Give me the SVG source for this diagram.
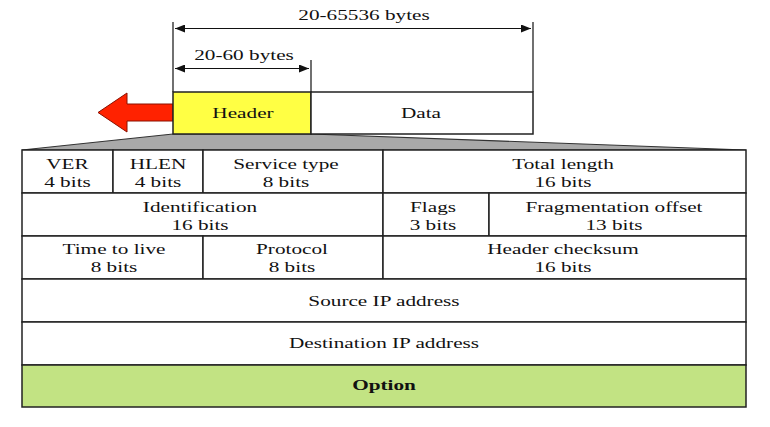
<svg xmlns="http://www.w3.org/2000/svg" width="770" height="427" viewBox="0 0 770 427">
<defs>
<style>
.t{font-family:"Liberation Serif","Times New Roman",serif;font-size:15.5px;fill:#111;text-anchor:middle}
.b{font-weight:bold}
.cell{fill:#fff;stroke:#222;stroke-width:1.5}
.dim{stroke:#111;stroke-width:1.2;fill:none}
</style>
<marker id="ah" viewBox="0 0 10 8" refX="10" refY="4" markerWidth="10" markerHeight="8" markerUnits="userSpaceOnUse" orient="auto-start-reverse">
<path d="M0,0 L10,4 L0,8 Z" fill="#111"/>
</marker>
</defs>
<rect width="770" height="427" fill="#fff"/>

<g id="connectors">
<line class="dim" x1="173" y1="22" x2="173" y2="92"/>
<line class="dim" x1="533" y1="22" x2="533" y2="92"/>
<line class="dim" x1="311" y1="60" x2="311" y2="92"/>
<line class="dim" x1="175" y1="28.5" x2="531" y2="28.5" marker-start="url(#ah)" marker-end="url(#ah)"/>
<line class="dim" x1="175" y1="68.5" x2="309" y2="68.5" marker-start="url(#ah)" marker-end="url(#ah)"/>
<text class="t" transform="translate(364,20) scale(1.37,1)">20-65536 bytes</text>
<text class="t" transform="translate(244,60) scale(1.37,1)">20-60 bytes</text>
</g>

<g id="expand">
<polygon points="173,134 311,134 746,150 22,150" fill="#a9a9a9" stroke="#333" stroke-width="1.2"/>
</g>

<g id="red-arrow">
<polygon points="98,112.5 127,93 127,104 173,104 173,121 127,121 127,132" fill="#ff2200" stroke="#8a1000" stroke-width="1"/>
</g>

<g id="header">
<rect x="173" y="92" width="138" height="42" fill="#ffff44" stroke="#222" stroke-width="1.5"/>
<text class="t" transform="translate(243,118) scale(1.37,1)">Header</text>
</g>
<g id="data">
<rect x="311" y="92" width="222" height="42" fill="#fff" stroke="#222" stroke-width="1.5"/>
<text class="t" transform="translate(421,118) scale(1.37,1)">Data</text>
</g>

<g id="ver">
<rect class="cell" x="22" y="150" width="91" height="43"/>
<text class="t" transform="translate(67.5,168.5) scale(1.37,1)">VER</text>
<text class="t" transform="translate(67.5,186.5) scale(1.37,1)">4 bits</text>
</g>
<g id="hlen">
<rect class="cell" x="113" y="150" width="90" height="43"/>
<text class="t" transform="translate(158,168.5) scale(1.37,1)">HLEN</text>
<text class="t" transform="translate(158,186.5) scale(1.37,1)">4 bits</text>
</g>
<g id="service-type">
<rect class="cell" x="203" y="150" width="180" height="43"/>
<text class="t" transform="translate(286,168.5) scale(1.37,1)">Service type</text>
<text class="t" transform="translate(286,186.5) scale(1.37,1)">8 bits</text>
</g>
<g id="total-length">
<rect class="cell" x="383" y="150" width="363" height="43"/>
<text class="t" transform="translate(563,168.5) scale(1.37,1)">Total length</text>
<text class="t" transform="translate(563,186.5) scale(1.37,1)">16 bits</text>
</g>

<g id="identification">
<rect class="cell" x="22" y="193" width="361" height="43"/>
<text class="t" transform="translate(200,211.5) scale(1.37,1)">Identification</text>
<text class="t" transform="translate(200,229.5) scale(1.37,1)">16 bits</text>
</g>
<g id="flags">
<rect class="cell" x="383" y="193" width="106" height="43"/>
<text class="t" transform="translate(433,211.5) scale(1.37,1)">Flags</text>
<text class="t" transform="translate(433,229.5) scale(1.37,1)">3 bits</text>
</g>
<g id="fragmentation-offset">
<rect class="cell" x="489" y="193" width="257" height="43"/>
<text class="t" transform="translate(614,211.5) scale(1.37,1)">Fragmentation offset</text>
<text class="t" transform="translate(614,229.5) scale(1.37,1)">13 bits</text>
</g>

<g id="ttl">
<rect class="cell" x="22" y="236" width="181" height="43"/>
<text class="t" transform="translate(114,254) scale(1.37,1)">Time to live</text>
<text class="t" transform="translate(114,272) scale(1.37,1)">8 bits</text>
</g>
<g id="protocol">
<rect class="cell" x="203" y="236" width="180" height="43"/>
<text class="t" transform="translate(292,254) scale(1.37,1)">Protocol</text>
<text class="t" transform="translate(292,272) scale(1.37,1)">8 bits</text>
</g>
<g id="header-checksum">
<rect class="cell" x="383" y="236" width="363" height="43"/>
<text class="t" transform="translate(563,254) scale(1.37,1)">Header checksum</text>
<text class="t" transform="translate(563,272) scale(1.37,1)">16 bits</text>
</g>

<g id="source-ip">
<rect class="cell" x="22" y="279" width="724" height="43"/>
<text class="t" transform="translate(384,306) scale(1.37,1)">Source IP address</text>
</g>
<g id="destination-ip">
<rect class="cell" x="22" y="322" width="724" height="43"/>
<text class="t" transform="translate(384,348) scale(1.37,1)">Destination IP address</text>
</g>
<g id="option">
<rect x="22" y="365" width="724" height="42" fill="#c2e383" stroke="#222" stroke-width="1.5"/>
<text class="t b" transform="translate(384,390) scale(1.37,1)">Option</text>
</g>
</svg>
